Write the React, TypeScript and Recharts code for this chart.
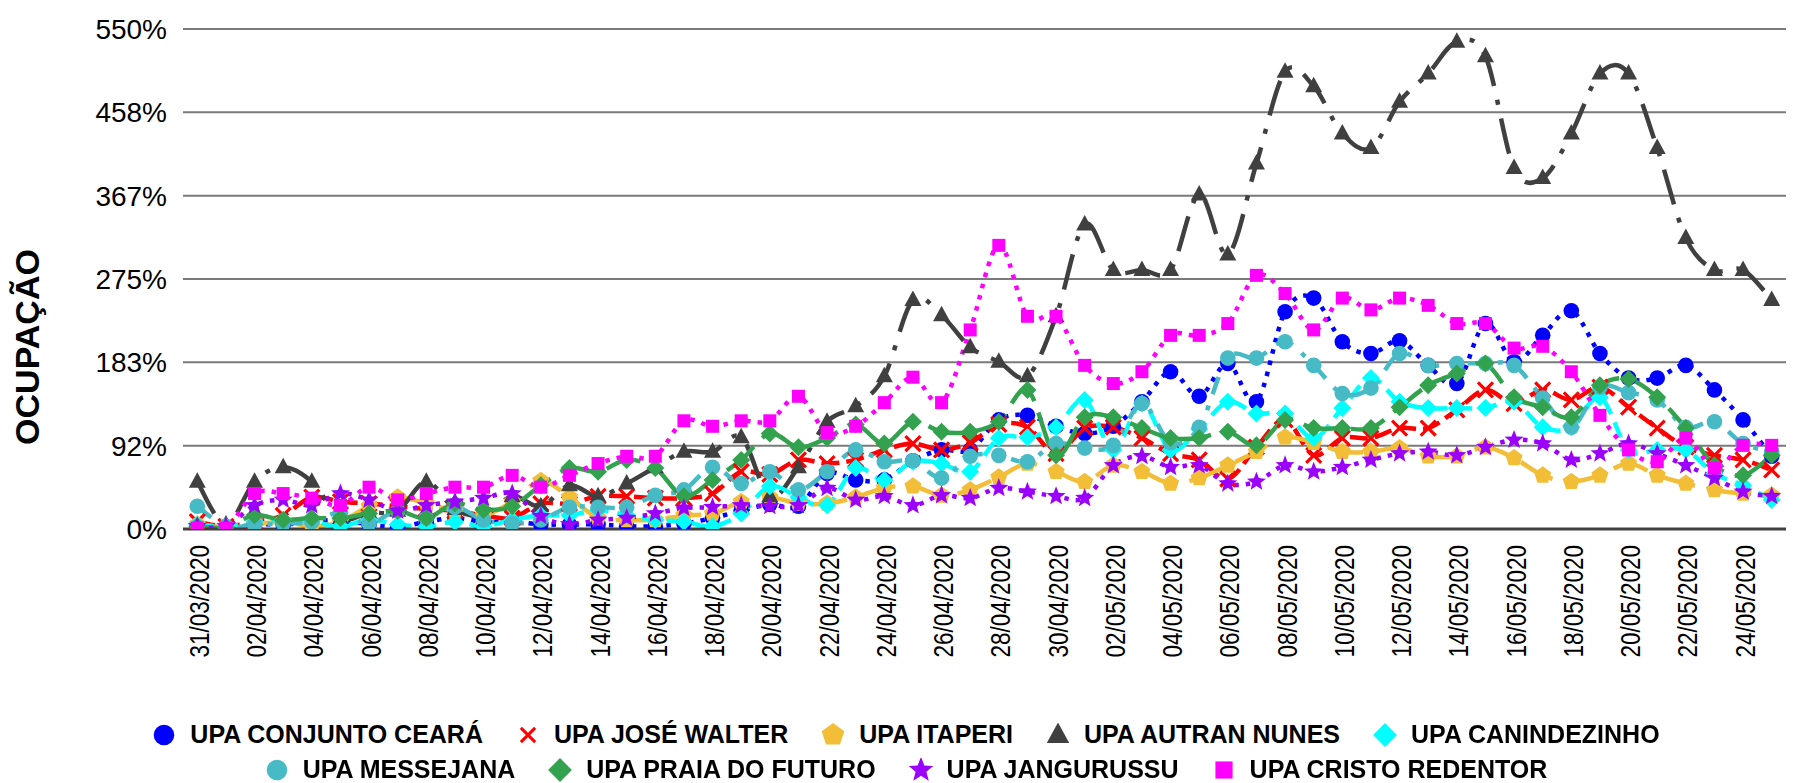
import React from 'react';
import { LineChart, Line, XAxis, YAxis, CartesianGrid, Legend } from 'recharts';

const FONT = '"Liberation Sans", Arial, Helvetica, sans-serif';

const dates = [
  '31/03/2020',
  '01/04/2020', '02/04/2020', '03/04/2020', '04/04/2020', '05/04/2020', '06/04/2020', '07/04/2020', '08/04/2020', '09/04/2020', '10/04/2020',
  '11/04/2020', '12/04/2020', '13/04/2020', '14/04/2020', '15/04/2020', '16/04/2020', '17/04/2020', '18/04/2020', '19/04/2020', '20/04/2020',
  '21/04/2020', '22/04/2020', '23/04/2020', '24/04/2020', '25/04/2020', '26/04/2020', '27/04/2020', '28/04/2020', '29/04/2020', '30/04/2020',
  '01/05/2020', '02/05/2020', '03/05/2020', '04/05/2020', '05/05/2020', '06/05/2020', '07/05/2020', '08/05/2020', '09/05/2020', '10/05/2020',
  '11/05/2020', '12/05/2020', '13/05/2020', '14/05/2020', '15/05/2020', '16/05/2020', '17/05/2020', '18/05/2020', '19/05/2020', '20/05/2020',
  '21/05/2020', '22/05/2020', '23/05/2020', '24/05/2020', '25/05/2020',
];

const conjuntoCeara = [2,0,5,5,8,10,5,2,8,12,8,8,5,5,5,3,3,6,12,20,27,25,61,54,54,75,87,87,120,125,113,105,113,140,173,146,182,140,239,254,206,193,207,180,160,226,184,213,240,193,166,166,180,153,120,80];
const joseWalter = [8,3,8,15,35,30,28,25,22,20,15,12,28,28,36,36,34,34,39,63,60,76,72,76,87,94,87,95,115,112,83,111,112,100,83,76,55,90,120,81,100,100,111,111,131,153,138,153,142,156,134,111,90,81,76,65];
const itaperi = [5,2,5,8,3,8,25,35,28,20,15,30,53,35,12,10,10,15,17,30,35,28,28,35,45,47,37,43,57,72,63,52,70,63,50,56,70,85,101,95,85,85,89,80,80,90,78,59,52,59,72,59,50,43,39,37];
const autranNunes = [52,5,52,68,52,12,18,20,52,22,15,36,25,48,36,50,68,85,85,101,36,68,118,135,168,252,235,200,184,168,234,335,285,285,285,368,302,402,503,487,435,419,470,501,536,520,397,386,435,501,501,419,320,285,285,252];
const canindezinho = [5,3,8,10,8,3,10,5,3,8,3,10,15,15,21,15,10,8,3,17,47,35,26,67,54,74,72,63,100,101,112,142,87,138,87,110,140,127,127,100,133,166,140,133,133,133,140,112,112,145,87,87,87,61,48,32];
const messejana = [25,3,5,6,8,18,6,20,12,24,10,6,10,24,24,24,37,43,68,50,63,43,63,87,74,75,56,80,81,74,94,89,92,138,95,112,188,188,206,180,149,155,193,180,182,182,180,144,112,156,150,142,112,118,94,85];
const praiaDoFuturo = [3,2,15,10,12,12,17,20,12,28,21,25,48,67,63,76,67,36,54,76,105,90,100,115,94,118,107,107,118,153,81,123,123,111,100,100,107,92,120,111,111,111,134,158,171,182,145,134,123,158,165,145,111,70,59,81];
const jangurussu = [3,3,26,32,26,39,32,20,26,30,34,39,14,5,10,12,17,23,24,26,25,26,45,32,36,26,37,34,45,41,36,34,70,80,68,70,50,52,70,63,68,76,83,85,81,90,98,94,76,83,94,83,70,56,41,36];
const cristoRedentor = [1,1,39,39,34,26,46,32,39,46,46,59,46,59,72,80,80,119,113,119,119,146,106,113,139,167,139,219,312,234,234,180,160,173,213,213,226,279,259,219,254,241,254,246,226,226,199,201,173,125,87,74,100,67,92,92];

const yTicks = [0, 550 / 6, 1100 / 6, 275, 2200 / 6, 2750 / 6, 550];

type Shape = 'circle' | 'x' | 'pentagon' | 'triangle' | 'diamond' | 'star' | 'square';

const series: { key: string; name: string; values: number[]; color: string; shape: Shape; dash: string }[] = [
  { key: 'conjunto', name: 'UPA CONJUNTO CEARÁ', values: conjuntoCeara, color: '#0000FF', shape: 'circle', dash: '4.5 7' },
  { key: 'jose', name: 'UPA JOSÉ WALTER', values: joseWalter, color: '#FF0000', shape: 'x', dash: '18 7' },
  { key: 'itaperi', name: 'UPA ITAPERI', values: itaperi, color: '#F2BE38', shape: 'pentagon', dash: '36 14' },
  { key: 'autran', name: 'UPA AUTRAN NUNES', values: autranNunes, color: '#404040', shape: 'triangle', dash: '36 14 5 14' },
  { key: 'canindezinho', name: 'UPA CANINDEZINHO', values: canindezinho, color: '#00FFFF', shape: 'diamond', dash: '16 9' },
  { key: 'messejana', name: 'UPA MESSEJANA', values: messejana, color: '#46BBC6', shape: 'circle', dash: '18 12 5 12' },
  { key: 'praia', name: 'UPA PRAIA DO FUTURO', values: praiaDoFuturo, color: '#33A24F', shape: 'diamond', dash: '36 12' },
  { key: 'jangurussu', name: 'UPA JANGURUSSU', values: jangurussu, color: '#9B00FF', shape: 'star', dash: '4.5 7' },
  { key: 'cristo', name: 'UPA CRISTO REDENTOR', values: cristoRedentor, color: '#FF00FF', shape: 'square', dash: '4.5 7' },
];

const data = dates.map((d, i) => {
  const row: Record<string, any> = { date: d };
  series.forEach((s) => { row[s.key] = s.values[i]; });
  return row;
});

// Excel-like smoothed line (Catmull-Rom style bezier)
const smoothCurve = (context: any) => {
  let pts: number[][] = [];
  return {
    areaStart() {},
    areaEnd() {},
    lineStart() { pts = []; },
    point(x: number, y: number) { pts.push([+x, +y]); },
    lineEnd() {
      if (!pts.length) return;
      context.moveTo(pts[0][0], pts[0][1]);
      for (let i = 0; i < pts.length - 1; i++) {
        const p0 = pts[i - 1] || pts[i];
        const p1 = pts[i];
        const p2 = pts[i + 1];
        const p3 = pts[i + 2] || p2;
        const c1x = p1[0] + (p2[0] - p0[0]) / 6;
        const c1y = p1[1] + (p2[1] - p0[1]) / 6;
        const c2x = p2[0] - (p3[0] - p1[0]) / 6;
        const c2y = p2[1] - (p3[1] - p1[1]) / 6;
        context.bezierCurveTo(c1x, c1y, c2x, c2y, p2[0], p2[1]);
      }
    },
  };
};

const Marker = ({ shape, color, cx, cy, s = 1 }: { shape: Shape; color: string; cx: number; cy: number; s?: number }) => {
  if (cx == null || cy == null || isNaN(cx) || isNaN(cy)) return null;
  switch (shape) {
    case 'circle':
      return <circle cx={cx} cy={cy} r={7.8 * s} fill={color} />;
    case 'square':
      return <rect x={cx - 6.5 * s} y={cy - 6.5 * s} width={13 * s} height={13 * s} fill={color} />;
    case 'diamond': {
      const r = 9 * s;
      return <polygon points={`${cx},${cy - r} ${cx + r},${cy} ${cx},${cy + r} ${cx - r},${cy}`} fill={color} />;
    }
    case 'triangle':
      return <polygon points={`${cx},${cy - 9.5 * s} ${cx + 8.5 * s},${cy + 6 * s} ${cx - 8.5 * s},${cy + 6 * s}`} fill={color} />;
    case 'pentagon': {
      const r = 9 * s;
      const p = [0, 1, 2, 3, 4].map((k) => {
        const a = (-90 + 72 * k) * Math.PI / 180;
        return `${cx + r * Math.cos(a)},${cy + r * Math.sin(a)}`;
      }).join(' ');
      return <polygon points={p} fill={color} />;
    }
    case 'star': {
      const ro = 10 * s, ri = 4.3 * s;
      const p = Array.from({ length: 10 }, (_, k) => {
        const a = (-90 + 36 * k) * Math.PI / 180;
        const r = k % 2 === 0 ? ro : ri;
        return `${cx + r * Math.cos(a)},${cy + r * Math.sin(a)}`;
      }).join(' ');
      return <polygon points={p} fill={color} />;
    }
    case 'x': {
      const h = 7.5 * s;
      return <path d={`M${cx - h},${cy - h}L${cx + h},${cy + h}M${cx + h},${cy - h}L${cx - h},${cy + h}`} stroke={color} strokeWidth={3.2 * s} fill="none" />;
    }
    default:
      return null;
  }
};

const DateTick = (props: any) => {
  const { x, y, payload } = props;
  return (
    <g transform={`translate(${x},${y})`}>
      <text transform="rotate(-90) scale(1,1.2)" x={-16} y={0} dy={9.6} textAnchor="end" fontSize={22.5} fontFamily={FONT} fill="#000">
        {payload.value}
      </text>
    </g>
  );
};

const YTitle = (props: any) => {
  const vb = props.viewBox || { x: 0, y: 29, width: 183, height: 500 };
  const x = vb.x + 39;
  const y = vb.y + vb.height / 2 + 68;
  return (
    <text x={x} y={y} transform={`rotate(-90, ${x}, ${y})`} textAnchor="middle" fontFamily={FONT} fontWeight={700} fontSize={34} fill="#000">
      OCUPAÇÃO
    </text>
  );
};

const renderLegend = () => (
  <div style={{ width: 1812, height: 83, paddingTop: 17, boxSizing: 'border-box', fontFamily: FONT, fontWeight: 700, fontSize: 25, color: '#000' }}>
    {[series.slice(0, 5), series.slice(5)].map((row, ri) => (
      <div key={ri} style={{ display: 'flex', justifyContent: 'center', alignItems: 'center', height: 35, columnGap: 33, whiteSpace: 'nowrap', lineHeight: '35px' }}>
        {row.map((s) => (
          <div key={s.key} style={{ display: 'flex', alignItems: 'center' }}>
            <svg width={24} height={24} style={{ marginRight: 14, display: 'block' }}>
              <Marker shape={s.shape} color={s.color} cx={12} cy={12} s={s.shape === 'x' ? 0.95 : 1.32} />
            </svg>
            <span>{s.name}</span>
          </div>
        ))}
      </div>
    ))}
  </div>
);

export default function App() {
  return (
    <div style={{ position: 'fixed', left: 0, top: 0, width: 1812, height: 783, background: '#fff' }}>
      <LineChart width={1812} height={783} data={data} margin={{ top: 29, right: 26, left: 0, bottom: 0 }}>
        <CartesianGrid vertical={false} stroke="#7a7a7a" strokeWidth={2} />
        <XAxis
          dataKey="date"
          interval={1}
          height={171}
          tick={<DateTick />}
          tickLine={false}
          tickSize={0}
          tickMargin={0}
          axisLine={{ stroke: '#404040', strokeWidth: 3 }}
          padding={{ left: 14.3, right: 14.3 }}
        />
        <YAxis
          width={183}
          domain={[0, 550]}
          ticks={yTicks}
          interval={0}
          allowDataOverflow
          tickFormatter={(v: number) => `${Math.round(v)}%`}
          tick={{ fontSize: 28, fill: '#000', fontFamily: FONT }}
          tickLine={false}
          tickSize={0}
          tickMargin={16}
          axisLine={false}
          label={<YTitle />}
        />
        <Legend verticalAlign="bottom" height={83} content={renderLegend} wrapperStyle={{ left: 0, width: 1812, height: 83 }} />
        {series.map((s) => (
          <Line
            key={s.key}
            dataKey={s.key}
            name={s.name}
            type={smoothCurve as any}
            stroke={s.color}
            strokeWidth={4.5}
            strokeDasharray={s.dash}
            isAnimationActive={false}
            activeDot={false}
            dot={(p: any) => <Marker key={`${s.key}-${p.index}`} shape={s.shape} color={s.color} cx={p.cx} cy={p.cy} />}
          />
        ))}
      </LineChart>
    </div>
  );
}
